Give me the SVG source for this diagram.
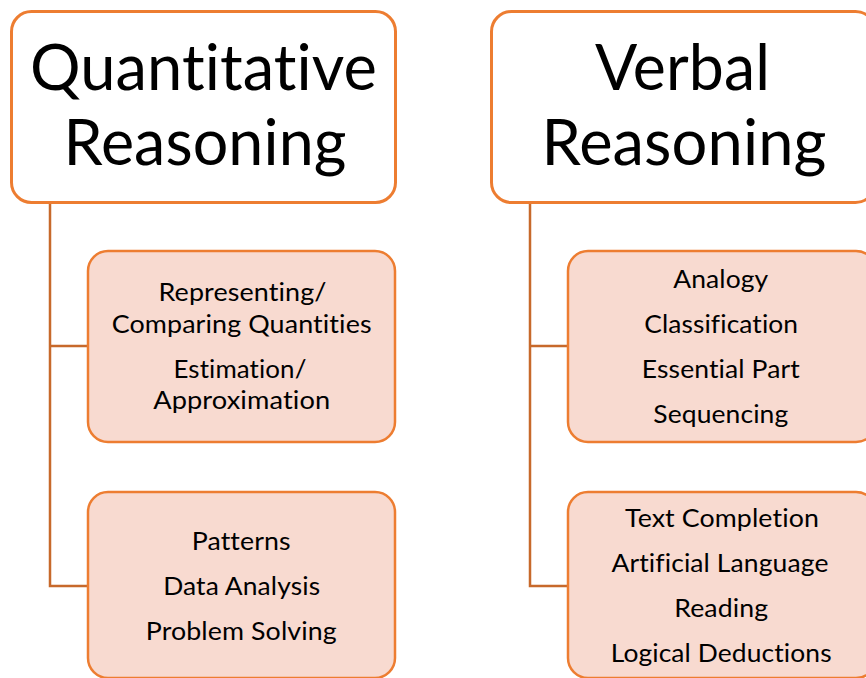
<svg xmlns="http://www.w3.org/2000/svg" width="866" height="678" viewBox="0 0 866 678">
<style>
.hdr{fill:#FFFFFF;stroke:#ED7D31;stroke-width:3}
.sub{fill:#F8DAD0;stroke:#ED7D31;stroke-width:2.5}
.conn{fill:none;stroke:#C7692B;stroke-width:2.5}
text{font-family:Lato,"Open Sans",sans-serif;fill:#000;text-anchor:middle;font-variant-ligatures:none;font-feature-settings:"liga" 0,"clig" 0,"dlig" 0,"calt" 0;letter-spacing:0.1px}
.t1{font-size:63px}
.t2{font-size:25px}
</style>
<rect width="866" height="678" fill="#FFFFFF"/>
<g id="connectors">
<path class="conn" d="M50,203 V586 H88 M50,346 H88"/>
<path class="conn" d="M530,203 V586 H568 M530,346 H568"/>
</g>
<g id="quantitative">
<rect class="hdr" x="11.5" y="11.5" width="384" height="191" rx="20"/>
<text class="t1" x="203.5" y="90" textLength="347" lengthAdjust="spacingAndGlyphs">Quantitative</text>
<text class="t1" x="205" y="165" textLength="283" lengthAdjust="spacingAndGlyphs">Reasoning</text>
</g>
<g id="verbal">
<rect class="hdr" x="491.5" y="11.5" width="384" height="191" rx="20"/>
<text class="t1" x="682.5" y="90" textLength="175" lengthAdjust="spacingAndGlyphs">Verbal</text>
<text class="t1" x="684" y="165" textLength="285" lengthAdjust="spacingAndGlyphs">Reasoning</text>
</g>
<g id="quant-box1">
<rect class="sub" x="88" y="251" width="307" height="191" rx="20"/>
<text class="t2" x="242.5" y="301" textLength="168" lengthAdjust="spacingAndGlyphs">Representing/</text>
<text class="t2" x="241.7" y="332.5" textLength="260" lengthAdjust="spacingAndGlyphs">Comparing Quantities</text>
<text class="t2" x="240" y="378" textLength="133" lengthAdjust="spacingAndGlyphs">Estimation/</text>
<text class="t2" x="241.7" y="409" textLength="177" lengthAdjust="spacingAndGlyphs">Approximation</text>
</g>
<g id="quant-box2">
<rect class="sub" x="88" y="492" width="307" height="186" rx="20"/>
<text class="t2" x="241.2" y="550" textLength="99" lengthAdjust="spacingAndGlyphs">Patterns</text>
<text class="t2" x="241.7" y="595" textLength="157" lengthAdjust="spacingAndGlyphs">Data Analysis</text>
<text class="t2" x="241.3" y="640" textLength="191" lengthAdjust="spacingAndGlyphs">Problem Solving</text>
</g>
<g id="verbal-box1">
<rect class="sub" x="568" y="251" width="308" height="191" rx="20"/>
<text class="t2" x="720.8" y="287.5" textLength="95" lengthAdjust="spacingAndGlyphs">Analogy</text>
<text class="t2" x="721.2" y="332.5" textLength="154" lengthAdjust="spacingAndGlyphs">Classification</text>
<text class="t2" x="720.8" y="377.5" textLength="158" lengthAdjust="spacingAndGlyphs">Essential Part</text>
<text class="t2" x="720.8" y="422.5" textLength="135" lengthAdjust="spacingAndGlyphs">Sequencing</text>
</g>
<g id="verbal-box2">
<rect class="sub" x="568" y="492" width="308" height="186" rx="20"/>
<text class="t2" x="722" y="527" textLength="194" lengthAdjust="spacingAndGlyphs">Text Completion</text>
<text class="t2" x="720" y="572" textLength="217" lengthAdjust="spacingAndGlyphs">Artificial Language</text>
<text class="t2" x="721.2" y="617" textLength="94" lengthAdjust="spacingAndGlyphs">Reading</text>
<text class="t2" x="721.2" y="662" textLength="221" lengthAdjust="spacingAndGlyphs">Logical Deductions</text>
</g>
</svg>
